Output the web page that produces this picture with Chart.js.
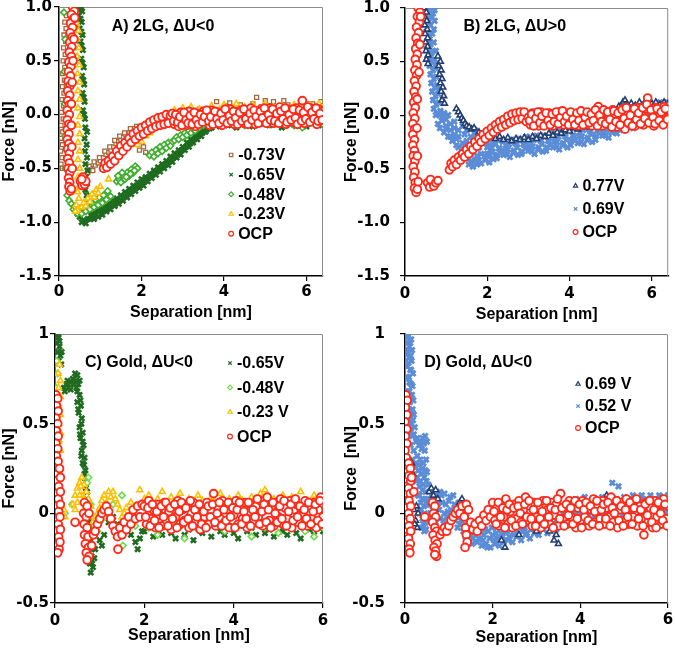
<!DOCTYPE html>
<html>
<head>
<meta charset="utf-8">
<script src="https://cdn.jsdelivr.net/npm/chart.js@4/dist/chart.umd.min.js"></script>
<style>
  body { margin: 0; background: #fff; }
  #wrap { position: relative; width: 675px; height: 648px; }
  canvas { position: absolute; }
</style>
</head>
<body>
<div id="wrap">
  <canvas id="pA" width="337" height="324" style="left:0;top:0"></canvas>
  <canvas id="pB" width="338" height="324" style="left:337px;top:0"></canvas>
  <canvas id="pC" width="337" height="324" style="left:0;top:324px"></canvas>
  <canvas id="pD" width="338" height="324" style="left:337px;top:324px"></canvas>
</div>
<script>
// tick labels
const xTicks = [0, 2, 4, 6];
const yTicksGraphene = [-1.5, -1.0, -0.5, 0.0, 0.5, 1.0];
const yTicksGold = [-0.5, 0, 0.5, 1];

const panelTitles = ["A) 2LG, \u0394U<0", "B) 2LG, \u0394U>0", "C) Gold, \u0394U<0", "D) Gold, \u0394U<0"];
const namesA = ["-0.73V", "-0.65V", "-0.48V", "-0.23V", "OCP"];
const namesB = ["0.77V", "0.69V", "OCP"];
const namesC = ["-0.65V", "-0.48V", "-0.23 V", "OCP"];
const namesD = ["0.69 V", "0.52 V", "OCP"];

// ---- panel A : separation [nm], force [nN]
const aBrown = [
  [0.18,0.92],[0.14,0.86],[0.17,0.8],[0.12,0.74],[0.16,0.68],[0.11,0.62],[0.15,0.56],[0.1,0.5],[0.14,0.44],[0.09,0.38],
  [0.13,0.32],[0.08,0.26],[0.12,0.2],[0.07,0.14],[0.11,0.08],[0.06,0.02],[0.1,-0.04],[0.05,-0.1],[0.09,-0.16],[0.05,-0.22],
  [0.08,-0.28],[0.04,-0.34],[0.07,-0.4],[0.05,-0.46],[0.08,-0.5],
  [0.7,-0.54],[0.76,-0.5],[0.82,-0.52],[0.88,-0.47],[0.95,-0.45],[1.0,-0.43],[1.08,-0.4],[1.14,-0.37],[1.2,-0.35],[1.26,-0.33],
  [1.32,-0.3],[1.38,-0.27],[1.44,-0.25],[1.5,-0.24],[1.56,-0.21],[1.62,-0.19],[1.7,-0.17],[1.76,-0.15],[1.82,-0.13],[1.88,-0.11],
  [0.73,-0.48],[0.85,-0.44],[0.98,-0.4],[1.11,-0.34],[1.23,-0.3],[1.35,-0.24],[1.47,-0.2],[1.59,-0.17],[1.73,-0.13],
  [1.95,-0.33],[2.0,-0.28],[2.05,-0.3],[2.1,-0.35],
  [2.2,-0.08],[2.35,-0.05],[2.5,-0.02],[2.65,0.0],[2.8,0.02],[2.95,-0.01],[3.1,0.03],[3.25,0.01],[3.4,0.05],[3.55,0.02],
  [3.7,0.06],[3.82,0.12],[3.95,0.04],[4.08,0.08],[4.14,0.11],[4.25,0.05],[4.4,0.09],[4.55,0.06],[4.7,0.1],[4.79,0.16],
  [4.9,0.07],[5.0,0.13],[5.1,0.08],[5.2,0.12],[5.32,0.06],[5.45,0.13],[5.55,0.09],[5.7,0.07],[5.85,0.12],[5.95,0.05],
  [6.05,0.1],[6.15,0.1],[6.25,0.07],[6.35,0.12],[6.4,0.08]
];
const aDkGreen = [
  [0.5,1.0],[0.56,0.96],[0.48,0.92],[0.55,0.86],[0.5,0.8],[0.57,0.74],[0.52,0.68],[0.58,0.6],[0.54,0.52],[0.6,0.44],
  [0.56,0.36],[0.61,0.28],[0.57,0.2],[0.62,0.12],[0.58,0.04],[0.63,-0.04],
  [0.53,0.98],[0.52,0.89],[0.54,0.77],[0.55,0.64],[0.57,0.48],[0.59,0.32],[0.6,0.16],[0.61,0.0],
  [0.64,-0.12],[0.68,-0.16],[0.62,-0.22],[0.67,-0.28],[0.63,-0.34],[0.68,-0.4],[0.64,-0.46],[0.69,-0.52],[0.65,-0.58],[0.68,-0.64],
  [0.64,-0.7],[0.67,-0.75],[0.45,-0.92],[0.5,-0.95],[0.55,-1.0],[0.6,-0.98],[0.65,-1.01],[0.7,-0.97],
  [0.75,-0.97],[0.8,-0.92],[0.85,-0.97],[0.9,-0.9],[0.95,-0.95],[1.0,-0.88],[1.05,-0.93],[1.1,-0.86],[1.15,-0.9],[1.2,-0.83],
  [1.25,-0.88],[1.3,-0.8],[1.35,-0.85],[1.4,-0.78],[1.45,-0.83],[1.5,-0.75],[1.55,-0.8],[1.6,-0.72],[1.65,-0.77],[1.7,-0.69],
  [1.75,-0.74],[1.8,-0.66],[1.85,-0.71],[1.9,-0.63],[1.95,-0.68],[2.0,-0.6],[2.05,-0.66],[2.1,-0.58],[2.15,-0.62],[2.2,-0.55],
  [2.25,-0.59],[2.3,-0.52],[2.35,-0.56],[2.4,-0.49],[2.45,-0.53],[2.5,-0.46],[2.55,-0.5],[2.6,-0.43],[2.65,-0.47],[2.7,-0.39],
  [2.75,-0.44],[2.8,-0.36],[2.85,-0.4],[2.9,-0.33],[2.95,-0.37],[3.0,-0.3],[3.05,-0.33],[3.1,-0.26],[3.15,-0.3],[3.2,-0.23],
  [3.25,-0.26],[3.3,-0.2],[3.35,-0.23],[3.4,-0.17],[3.45,-0.2],[3.5,-0.14],[3.55,-0.16],[3.6,-0.11],[3.65,-0.13],
  [0.78,-0.94],[0.88,-0.93],[0.98,-0.9],[1.08,-0.89],[1.18,-0.86],[1.28,-0.84],[1.38,-0.81],[1.48,-0.79],[1.58,-0.76],[1.68,-0.73],
  [1.78,-0.7],[1.88,-0.67],[1.98,-0.64],[2.08,-0.62],[2.18,-0.58],[2.28,-0.55],[2.38,-0.52],[2.48,-0.49],[2.58,-0.46],[2.68,-0.43],
  [2.78,-0.4],[2.88,-0.37],[2.98,-0.33],[3.08,-0.3],[3.18,-0.27],[3.28,-0.23],[3.38,-0.2],[3.48,-0.17],[3.58,-0.14],
  [3.7,-0.12],[3.8,-0.06],[3.9,-0.11],[4.0,-0.03],[4.1,-0.1],[4.2,-0.05],[4.3,-0.12],[4.4,-0.02],[4.5,-0.09],[4.6,-0.04],
  [4.7,-0.11],[4.8,-0.01],[4.9,-0.08],[5.0,-0.03],[5.1,-0.1],[5.2,0.0],[5.3,-0.07],[5.4,-0.12],[5.5,-0.04],[5.6,-0.09],
  [5.7,0.01],[5.8,-0.1],[5.9,-0.05],[6.0,-0.11],[6.1,-0.02],[6.2,-0.08],[6.3,-0.1],[6.4,-0.04]
];
const aGreen = [
  [0.12,0.95],[0.15,0.7],[0.13,0.4],[0.14,0.1],[0.15,-0.2],[0.16,-0.5],[0.2,-0.75],[0.25,-0.8],[0.3,-0.83],
  [0.35,-0.88],[0.4,-0.9],[0.45,-0.92],[0.5,-0.9],[0.55,-0.92],[0.6,-0.88],[0.65,-0.9],[0.7,-0.86],[0.75,-0.88],[0.8,-0.84],
  [0.85,-0.86],[0.9,-0.82],[0.95,-0.84],[1.0,-0.8],[1.05,-0.82],[1.1,-0.78],[1.15,-0.79],[1.2,-0.74],[1.25,-0.76],
  [0.38,-0.85],[0.48,-0.87],[0.58,-0.85],[0.68,-0.83],[0.78,-0.81],[0.88,-0.79],[0.98,-0.77],[1.08,-0.75],[1.18,-0.71],
  [1.4,-0.62],[1.45,-0.6],[1.5,-0.63],[1.55,-0.57],[1.6,-0.6],[1.65,-0.54],[1.7,-0.57],[1.75,-0.51],[1.8,-0.54],[1.85,-0.48],[1.9,-0.5],
  [1.43,-0.57],[1.53,-0.54],[1.63,-0.58],[1.73,-0.55],[1.83,-0.52],
  [2.2,-0.38],[2.25,-0.35],[2.3,-0.39],[2.35,-0.33],[2.4,-0.36],[2.45,-0.3],[2.5,-0.34],[2.55,-0.28],[2.6,-0.31],[2.65,-0.26],[2.7,-0.29],[2.75,-0.25],
  [2.8,-0.24],[2.85,-0.21],[2.9,-0.23],[2.95,-0.19],[3.0,-0.21],[3.05,-0.17],[3.1,-0.19],[3.15,-0.15],[3.2,-0.17],[3.25,-0.13],
  [3.3,-0.15],[3.35,-0.11],[3.4,-0.12],
  [3.5,-0.1],[3.7,-0.05],[3.9,-0.09],[4.2,-0.07],[4.5,-0.1],[4.8,-0.06],[5.1,-0.09],[5.4,-0.05],[5.7,-0.1],[5.9,-0.12],[6.2,-0.07],[6.4,-0.09]
];
const aYellow = [
  [0.42,0.85],[0.47,0.78],[0.43,0.7],[0.48,0.62],[0.44,0.54],[0.49,0.46],[0.45,0.38],[0.5,0.3],[0.46,0.22],[0.5,0.14],
  [0.46,0.06],[0.5,-0.02],[0.46,-0.1],[0.5,-0.18],[0.46,-0.26],[0.5,-0.34],[0.46,-0.42],[0.5,-0.5],[0.46,-0.58],[0.5,-0.66],
  [0.45,-0.72],[0.48,-0.78],[0.42,-0.84],[0.45,-0.89],[0.4,-0.9],
  [0.55,-0.86],[0.6,-0.82],[0.65,-0.85],[0.7,-0.78],[0.75,-0.81],[0.8,-0.74],[0.85,-0.77],[0.9,-0.7],[0.95,-0.73],[1.0,-0.67],[1.2,-0.6],
  [1.9,-0.28],[2.0,-0.25],[2.1,-0.2],[2.2,-0.17],[2.3,-0.13],[2.4,-0.1],
  [2.5,-0.06],[2.6,-0.02],[2.7,0.01],[2.8,0.04],[2.9,0.02],[3.0,0.06],[3.1,0.03],[3.2,0.07],[3.3,0.02],[3.4,0.05],
  [3.5,0.0],[3.6,0.04],[3.7,0.08],[3.8,0.01],[3.9,0.05],[4.0,0.09],[4.1,0.03],[4.2,0.06],[4.3,0.1],[4.4,0.02],
  [4.5,0.07],[4.6,0.04],[4.7,0.09],[4.8,0.03],[4.9,0.06],[5.0,0.1],[5.1,0.02],[5.2,0.07],[5.3,0.04],[5.4,0.08],
  [5.5,0.01],[5.6,0.06],[5.7,0.09],[5.8,0.03],[5.9,0.07],[6.0,0.02],[6.1,0.08],[6.2,0.05],[6.3,0.1],[6.4,0.06]
];
const aOcp = [
  [0.33,1.0],[0.37,0.96],[0.3,0.93],[0.35,0.89],[0.28,0.85],[0.33,0.81],[0.27,0.76],[0.32,0.72],[0.26,0.67],[0.31,0.63],
  [0.25,0.58],[0.3,0.54],[0.24,0.49],[0.29,0.45],[0.23,0.4],[0.28,0.36],[0.22,0.31],[0.27,0.27],[0.21,0.22],[0.26,0.18],
  [0.21,0.13],[0.25,0.09],[0.2,0.04],[0.25,0.0],[0.2,-0.05],[0.24,-0.09],[0.2,-0.14],[0.24,-0.18],[0.2,-0.23],[0.24,-0.27],
  [0.21,-0.32],[0.25,-0.36],[0.21,-0.41],[0.25,-0.45],[0.22,-0.5],[0.26,-0.54],[0.23,-0.59],[0.26,-0.63],[0.24,-0.67],[0.27,-0.71],[0.3,-0.69],
  [0.38,0.9],[0.36,0.7],[0.34,0.5],[0.32,0.3],[0.3,0.1],[0.3,-0.1],[0.31,-0.3],[0.32,-0.5],
  [0.52,-0.62],[0.56,-0.66],[0.6,-0.6],[0.62,-0.65],[0.58,-0.58],[0.65,-0.62],[0.55,-0.6],
  [1.08,-0.5],[1.12,-0.45],[1.16,-0.49],[1.2,-0.43],[1.25,-0.46],[1.3,-0.39],[1.35,-0.43],[1.4,-0.34],[1.45,-0.38],[1.5,-0.29],
  [1.55,-0.34],[1.6,-0.26],[1.65,-0.3],[1.7,-0.22],[1.75,-0.26],[1.8,-0.18],[1.85,-0.23],[1.9,-0.15],[1.95,-0.2],[2.0,-0.12],
  [2.05,-0.18],[2.1,-0.1],[2.15,-0.15],[2.2,-0.07],[2.25,-0.13],[2.3,-0.05],[2.35,-0.11],[2.4,-0.03],[2.45,-0.1],[2.5,-0.02],
  [2.55,-0.09],[2.6,0.0],[2.65,-0.08],[2.7,-0.01],
  [2.75,0.01],[2.8,-0.09],[2.85,-0.03],[2.9,-0.11],[2.95,0.02],[3.0,-0.06],[3.05,-0.01],[3.1,-0.1],[3.15,0.03],[3.2,-0.05],
  [3.25,-0.02],[3.3,-0.11],[3.35,0.01],[3.4,-0.08],[3.45,-0.04],[3.5,0.03],[3.55,-0.06],[3.6,-0.01],[3.65,-0.1],[3.7,0.04],
  [3.75,-0.03],[3.8,-0.08],[3.85,0.02],[3.9,-0.05],[3.95,-0.1],[4.0,0.03],[4.05,-0.02],[4.1,-0.07],[4.15,0.05],[4.2,-0.04],
  [4.25,-0.09],[4.3,0.01],[4.35,-0.06],[4.4,0.04],[4.45,-0.02],[4.5,-0.08],[4.55,0.03],[4.6,-0.05],[4.65,0.06],[4.7,-0.03],
  [4.75,-0.09],[4.8,0.02],[4.85,-0.04],[4.9,0.05],[4.95,-0.07],[5.0,0.01],[5.05,-0.05],[5.1,0.06],[5.15,-0.02],[5.2,-0.08],
  [5.25,0.04],[5.3,-0.03],[5.35,0.07],[5.4,-0.06],[5.45,0.0],[5.5,-0.09],[5.55,0.05],[5.6,-0.02],[5.65,0.03],[5.7,-0.07],
  [5.75,0.06],[5.8,-0.04],[5.85,0.02],[5.9,0.13],[5.95,-0.08],[6.0,0.04],[6.05,-0.03],[6.1,0.06],[6.15,-0.06],[6.2,0.01],
  [6.25,-0.09],[6.3,0.05],[6.35,-0.02],[6.4,0.03],
  [2.78,-0.06],[2.83,0.0],[2.88,-0.07],[2.93,-0.02],[2.98,-0.1],[3.03,0.02],[3.08,-0.05],[3.13,-0.08],[3.18,-0.01],[3.23,-0.09],
  [3.28,0.02],[3.33,-0.05],[3.38,-0.09],[3.43,0.0],[3.48,-0.07],[3.53,-0.02],[3.58,0.04],[3.63,-0.06],[3.68,-0.02],[3.73,-0.09],
  [3.78,0.03],[3.83,-0.04],[3.88,-0.08],[3.93,0.01],[3.98,-0.05],[4.03,0.05],[4.08,-0.08],[4.13,-0.01],[4.18,-0.06],[4.23,0.03],
  [4.28,-0.03],[4.33,-0.09],[4.38,0.02],[4.43,-0.06],[4.48,0.05],[4.53,-0.04],[4.58,-0.09],[4.63,0.01],[4.68,-0.05],[4.73,0.04],
  [4.78,-0.02],[4.83,-0.08],[4.88,0.03],[4.93,-0.03],[4.98,0.06],[5.03,-0.08],[5.08,0.0],[5.13,-0.05],[5.18,0.05],[5.23,-0.06],
  [5.28,0.01],[5.33,-0.08],[5.38,0.03],[5.43,-0.04],[5.48,0.06],[5.53,-0.07],[5.58,0.0],[5.63,-0.05],[5.68,0.05],[5.73,-0.03],
  [5.78,-0.09],[5.83,0.04],[5.88,-0.06],[5.93,0.02],[5.98,-0.04],[6.03,0.07],[6.08,-0.07],[6.13,0.02],[6.18,-0.04],[6.23,0.06],
  [6.28,-0.06],[6.33,0.01],[6.38,-0.05]
];

// ---- panel B
const bNavy = [
  [0.46,1.0],[0.52,0.96],[0.47,0.92],[0.53,0.88],[0.48,0.84],[0.54,0.8],[0.49,0.76],[0.55,0.72],[0.5,0.68],[0.55,0.64],
  [0.51,0.6],[0.56,0.56],[0.52,0.52],[0.56,0.48],
  [0.8,0.55],[0.86,0.5],[0.82,0.46],[0.88,0.42],[0.84,0.38],[0.9,0.34],[0.86,0.3],[0.92,0.26],[0.88,0.22],[0.94,0.18],[0.9,0.14],[0.96,0.11],
  [1.25,0.06],[1.3,0.03],[1.34,0.0],[1.38,-0.03],[1.42,-0.05],[1.46,-0.08],[1.5,-0.1],[1.56,-0.11],[1.62,-0.13],[1.68,-0.12],
  [1.8,-0.16],[1.9,-0.18],[2.0,-0.2],[2.1,-0.19],[2.2,-0.22],[2.3,-0.2],[2.4,-0.23],[2.5,-0.21],[2.6,-0.24],[2.7,-0.22],
  [2.8,-0.23],[2.9,-0.21],[3.0,-0.23],[3.1,-0.2],[3.2,-0.22],[3.3,-0.19],[3.4,-0.2],[3.5,-0.17],[3.6,-0.19],[3.7,-0.16],
  [3.8,-0.17],[3.9,-0.14],[4.0,-0.15],[4.1,-0.12],[4.2,-0.13],[4.3,-0.1],[4.4,-0.11],[4.5,-0.08],[4.6,-0.09],[4.7,-0.05],
  [4.8,-0.06],[4.9,-0.02],[5.0,0.0],[5.1,0.04],[5.2,0.08],[5.3,0.12],[5.35,0.14],[5.4,0.1],[5.5,0.11],[5.6,0.09],
  [5.7,0.12],[5.8,0.1],[5.9,0.13],[6.0,0.11],[6.1,0.12],[6.2,0.1],[6.3,0.12],[6.4,0.11]
];
const bBlue = [
  [0.45,1.0],[0.6,1.0],[0.72,0.98],[0.5,0.94],[0.65,0.92],[0.48,0.86],[0.62,0.84],[0.72,0.88],[0.52,0.78],[0.66,0.76],
  [0.56,0.7],[0.7,0.68],[0.54,0.62],[0.68,0.6],[0.58,0.54],[0.72,0.52],[0.6,0.46],[0.74,0.44],[0.62,0.38],[0.76,0.36],
  [0.64,0.3],[0.78,0.28],[0.66,0.22],[0.8,0.2],[0.68,0.14],[0.82,0.12],[0.7,0.06],[0.86,0.04],
  [0.55,0.98],[0.68,0.95],[0.58,0.9],[0.7,0.8],[0.6,0.74],[0.62,0.66],[0.75,0.6],[0.64,0.58],[0.66,0.5],[0.78,0.48],
  [0.68,0.42],[0.7,0.34],[0.72,0.26],[0.84,0.24],[0.74,0.18],[0.76,0.1],[0.78,0.02],[0.95,0.02],[0.85,0.0],
  [0.75,0.0],[0.9,-0.02],[1.05,0.0],[0.8,-0.08],[1.0,-0.1],[1.2,-0.12],[0.95,-0.16],[1.2,-0.18],[1.45,-0.18],[1.7,-0.18],
  [1.15,-0.24],[1.4,-0.26],[1.65,-0.24],[1.9,-0.22],[1.3,-0.3],[1.55,-0.32],[1.8,-0.3],[2.05,-0.28],[1.5,-0.38],[1.75,-0.38],
  [2.0,-0.36],[1.6,-0.44],[1.75,-0.46],[1.95,-0.42],[2.2,-0.38],[2.4,-0.36],
  [0.9,-0.05],[1.0,-0.04],[1.1,-0.08],[1.2,-0.06],[1.3,-0.14],[1.4,-0.1],[1.5,-0.14],[1.6,-0.2],[1.7,-0.14],[1.8,-0.22],
  [1.9,-0.17],[2.0,-0.2],[1.05,-0.2],[1.25,-0.22],[1.45,-0.28],[1.65,-0.34],[1.85,-0.36],[1.35,-0.36],[1.55,-0.4],[1.65,-0.48],
  [1.7,-0.42],[1.85,-0.45],[2.05,-0.44],[1.9,-0.26],[2.1,-0.22],
  [0.85,-0.12],[1.1,-0.14],[1.3,-0.2],[1.5,-0.24],[1.75,-0.26],[2.0,-0.3],[1.4,-0.32],[1.6,-0.36],[1.8,-0.42],[1.55,-0.46],
  [1.95,-0.38],[1.25,-0.28],[1.1,-0.2],[1.0,-0.12],
  [2.0,-0.26],[2.05,-0.36],[2.1,-0.31],[2.15,-0.41],[2.2,-0.27],[2.25,-0.37],[2.3,-0.31],[2.35,-0.23],[2.4,-0.37],[2.45,-0.28],
  [2.5,-0.32],[2.55,-0.39],[2.6,-0.23],[2.65,-0.33],[2.7,-0.27],[2.75,-0.37],[2.8,-0.24],[2.85,-0.34],[2.9,-0.28],[2.95,-0.2],
  [3.0,-0.33],[3.05,-0.24],[3.1,-0.29],[3.15,-0.36],[3.2,-0.19],[3.25,-0.3],[3.3,-0.24],[3.35,-0.34],[3.4,-0.2],[3.45,-0.3],
  [3.5,-0.24],[3.55,-0.16],[3.6,-0.3],[3.65,-0.21],[3.7,-0.25],[3.75,-0.32],[3.8,-0.15],[3.85,-0.26],[3.9,-0.2],[3.95,-0.3],
  [4.0,-0.13],[4.05,-0.24],[4.1,-0.19],[4.15,-0.11],[4.2,-0.26],[4.25,-0.16],[4.3,-0.2],[4.35,-0.27],[4.4,-0.1],[4.45,-0.21],
  [4.5,-0.15],[4.55,-0.25],[4.6,-0.08],[4.65,-0.19],[4.7,-0.13],[4.75,-0.05],[4.8,-0.19],[4.85,-0.1],[4.9,-0.14],[4.95,-0.21],
  [5.0,-0.04],[5.05,-0.14],[5.1,-0.08],[5.15,-0.17],[5.2,0.0],[5.25,-0.11],[5.3,-0.05],[5.35,0.03],[5.4,-0.11],[5.45,-0.01],
  [5.5,-0.06],[5.55,-0.12],[5.6,0.05],[5.65,-0.05],[5.7,0.02],[5.75,-0.06],[5.8,0.1],[5.85,-0.01],[5.9,0.05],[5.95,0.12],
  [6.0,-0.01],[6.05,0.08],[6.1,0.03],[6.15,-0.02],[6.2,0.12],[6.25,0.02],[6.3,0.07],[6.35,0.0],[6.4,0.11],
  [2.03,-0.39],[2.08,-0.29],[2.13,-0.34],[2.18,-0.26],[2.23,-0.4],[2.28,-0.31],[2.33,-0.35],[2.38,-0.25],[2.43,-0.33],[2.48,-0.37],
  [2.53,-0.27],[2.58,-0.25],[2.63,-0.35],[2.68,-0.25],[2.73,-0.3],[2.78,-0.22],[2.83,-0.36],[2.88,-0.27],[2.93,-0.31],[2.98,-0.21],
  [3.03,-0.29],[3.08,-0.34],[3.13,-0.23],[3.18,-0.21],[3.23,-0.32],[3.28,-0.22],[3.33,-0.27],[3.38,-0.19],[3.43,-0.33],[3.48,-0.24],
  [3.53,-0.28],[3.58,-0.17],[3.63,-0.25],[3.68,-0.3],[3.73,-0.2],[3.78,-0.17],[3.83,-0.28],[3.88,-0.18],[3.93,-0.23],[3.98,-0.14],
  [4.03,-0.28],[4.08,-0.19],[4.13,-0.23],[4.18,-0.12],[4.23,-0.2],[4.28,-0.25],[4.33,-0.14],[4.38,-0.12],[4.43,-0.23],[4.48,-0.13],
  [4.53,-0.18],[4.58,-0.1],[4.63,-0.23],[4.68,-0.14],[4.73,-0.17],[4.78,-0.07],[4.83,-0.15],[4.88,-0.19],[4.93,-0.09],[4.98,-0.06],
  [5.03,-0.16],[5.08,-0.06],[5.13,-0.1],[5.18,-0.02],[5.23,-0.14],[5.28,-0.05],[5.33,-0.08],[5.38,0.01],[5.43,-0.07],[5.48,-0.11],
  [5.53,-0.01],[5.58,0.02],[5.63,-0.08],[5.68,0.02],[5.73,-0.01],[5.78,0.07],[5.83,-0.06],[5.88,0.03],[5.93,-0.01],[5.98,0.1],
  [6.03,0.03],[6.08,-0.02],[6.13,0.09],[6.18,0.1],[6.23,0.0],[6.28,0.09],[6.33,0.04],[6.38,0.12]
];
const bOcp = [
  [0.32,1.0],[0.36,0.96],[0.3,0.92],[0.35,0.87],[0.28,0.82],[0.33,0.77],[0.27,0.72],[0.31,0.67],[0.26,0.62],[0.3,0.57],
  [0.25,0.52],[0.29,0.47],[0.24,0.42],[0.28,0.37],[0.23,0.32],[0.27,0.27],[0.22,0.22],[0.26,0.17],[0.21,0.12],[0.25,0.07],
  [0.2,0.02],[0.24,-0.03],[0.19,-0.08],[0.23,-0.13],[0.19,-0.18],[0.23,-0.23],[0.19,-0.28],[0.23,-0.33],[0.2,-0.38],[0.24,-0.43],
  [0.2,-0.48],[0.24,-0.53],[0.21,-0.58],[0.25,-0.63],[0.23,-0.68],[0.27,-0.72],[0.3,-0.69],
  [0.38,0.92],[0.36,0.66],[0.34,0.4],[0.3,0.15],[0.29,-0.12],[0.3,-0.38],[0.32,-0.62],
  [0.55,-0.63],[0.6,-0.67],[0.65,-0.62],[0.7,-0.66],[0.62,-0.6],[0.75,-0.63],[0.8,-0.61],
  [1.08,-0.51],[1.12,-0.45],[1.16,-0.48],[1.2,-0.42],[1.25,-0.46],[1.3,-0.39],[1.35,-0.42],[1.4,-0.36],[1.45,-0.39],[1.5,-0.32],
  [1.55,-0.36],[1.6,-0.29],[1.65,-0.32],[1.7,-0.25],[1.75,-0.29],[1.8,-0.22],[1.85,-0.25],[1.9,-0.18],[1.95,-0.22],[2.0,-0.15],
  [2.05,-0.19],[2.1,-0.12],[2.15,-0.16],[2.2,-0.09],[2.25,-0.13],[2.3,-0.06],[2.35,-0.11],[2.4,-0.04],[2.45,-0.09],[2.5,-0.01],
  [2.55,-0.07],[2.6,0.01],[2.65,-0.05],[2.7,0.02],[2.75,-0.04],[2.8,0.03],[2.85,-0.03],[2.9,0.03],[2.95,-0.06],
  [3.0,-0.02],[3.05,-0.09],[3.1,0.02],[3.15,-0.06],[3.2,-0.01],[3.25,-0.1],[3.3,0.03],[3.35,-0.05],[3.4,0.0],[3.45,-0.08],
  [3.5,0.02],[3.55,-0.04],[3.6,-0.1],[3.65,0.01],[3.7,-0.06],[3.75,0.03],[3.8,-0.03],[3.85,-0.09],[3.9,0.02],[3.95,-0.05],
  [4.0,0.0],[4.05,-0.08],[4.1,0.01],[4.15,-0.04],[4.2,-0.1],[4.25,0.02],[4.3,-0.06],[4.35,-0.01],[4.4,-0.09],[4.45,0.01],
  [4.5,-0.05],[4.55,-0.1],[4.6,0.0],[4.65,-0.07],[4.7,0.08],[4.75,-0.03],[4.8,-0.1],[4.85,0.04],[4.9,-0.05],[4.95,0.01],
  [5.0,-0.08],[5.05,0.05],[5.1,-0.02],[5.15,-0.11],[5.2,0.03],[5.25,-0.06],[5.3,0.06],[5.35,-0.13],[5.4,0.02],[5.45,-0.08],
  [5.5,0.05],[5.55,-0.03],[5.6,-0.1],[5.65,0.07],[5.7,-0.05],[5.75,0.03],[5.8,-0.09],[5.85,0.06],[5.9,0.16],[5.95,-0.04],
  [6.0,0.04],[6.05,-0.1],[6.1,0.07],[6.15,-0.02],[6.2,0.05],[6.25,-0.07],[6.3,0.08],[6.35,-0.03],[6.4,0.05],
  [3.03,-0.05],[3.08,0.01],[3.13,-0.1],[3.18,-0.03],[3.23,0.03],[3.28,-0.07],[3.33,-0.01],[3.38,-0.1],[3.43,0.02],[3.48,-0.05],
  [3.53,-0.09],[3.58,0.01],[3.63,-0.06],[3.68,0.03],[3.73,-0.08],[3.78,-0.02],[3.83,0.04],[3.88,-0.06],[3.93,-0.01],[3.98,-0.09],
  [4.03,0.03],[4.08,-0.04],[4.13,-0.09],[4.18,0.02],[4.23,-0.05],[4.28,0.04],[4.33,-0.09],[4.38,-0.02],[4.43,0.03],[4.48,-0.07],
  [4.53,0.01],[4.58,-0.05],[4.63,0.05],[4.68,-0.1],[4.73,0.0],[4.78,-0.06],[4.83,0.05],[4.88,-0.08],[4.93,0.03],[4.98,-0.04],
  [5.03,-0.11],[5.08,0.04],[5.13,-0.06],[5.18,0.02],[5.23,-0.09],[5.28,0.05],[5.33,-0.03],[5.38,0.07],[5.43,-0.07],[5.48,0.0],
  [5.53,-0.1],[5.58,0.06],[5.63,-0.04],[5.68,0.02],[5.73,-0.08],[5.78,0.07],[5.83,-0.03],[5.88,0.1],[5.93,-0.07],[5.98,0.05],
  [6.03,-0.02],[6.08,-0.08],[6.13,0.06],[6.18,-0.05],[6.23,0.03],[6.28,-0.09],[6.33,0.06],[6.38,-0.04]
];

// ---- panel C
const cDkGreen = [
  [0.02,1.0],[0.08,0.98],[0.04,0.95],[0.1,0.93],[0.06,0.9],[0.12,0.88],[0.08,0.85],[0.14,0.83],[0.15,0.9],[0.1,0.96],[0.05,0.99],
  [0.2,0.7],[0.25,0.72],[0.3,0.7],[0.35,0.73],[0.4,0.75],[0.45,0.78],[0.5,0.77],[0.55,0.74],[0.48,0.7],[0.55,0.66],
  [0.5,0.62],[0.58,0.6],[0.53,0.56],[0.6,0.53],[0.55,0.48],[0.62,0.45],[0.57,0.42],[0.64,0.38],[0.6,0.35],[0.66,0.31],
  [0.62,0.28],[0.68,0.24],[0.65,0.2],[0.7,0.17],[0.72,0.12],[0.75,0.06],[0.73,0.0],[0.78,-0.05],[0.75,-0.1],[0.8,-0.15],
  [0.76,-0.2],[0.82,-0.24],[0.78,-0.28],[0.8,-0.33],[0.85,-0.3],[0.88,-0.25],[0.9,-0.2],
  [0.42,0.72],[0.47,0.74],[0.52,0.72],[0.5,0.68],[0.57,0.63],[0.52,0.58],[0.59,0.5],[0.56,0.44],[0.62,0.4],[0.59,0.32],
  [0.65,0.27],[0.66,0.22],[0.69,0.14],[0.71,0.08],[0.74,0.03],[0.76,-0.03],[0.77,-0.12],[0.79,-0.18],[0.78,-0.24],[0.83,-0.28],
  [0.82,-0.2],[0.28,0.74],[0.22,0.68],[0.35,0.69],
  [1.0,-0.15],[1.05,-0.18],[1.1,-0.12],[1.2,-0.05],[1.3,-0.02],[1.4,-0.06],[1.5,-0.1],[1.6,-0.08],[1.7,-0.12],[1.75,0.02],
  [1.8,-0.16],[1.85,-0.2],[1.9,-0.14],[1.95,-0.1],
  [2.0,-0.1],[2.1,-0.06],[2.2,-0.13],[2.3,-0.08],[2.4,-0.12],[2.5,-0.05],[2.6,-0.11],[2.7,-0.14],[2.8,-0.07],[2.9,-0.12],
  [3.0,-0.09],[3.1,-0.15],[3.2,-0.06],[3.3,-0.11],[3.4,-0.08],[3.5,-0.13],[3.6,-0.05],[3.7,-0.1],[3.8,-0.12],[3.9,-0.07],
  [4.0,-0.11],[4.1,-0.14],[4.2,-0.06],[4.3,-0.1],[4.4,-0.08],[4.5,-0.12],[4.6,-0.05],[4.7,-0.11],[4.8,-0.09],[4.9,-0.13],
  [5.0,-0.06],[5.1,-0.1],[5.2,-0.12],[5.3,-0.07],[5.4,-0.11],[5.5,-0.14],[5.6,-0.06],[5.7,-0.09],[5.8,-0.12],[5.9,-0.07],[6.0,-0.1]
];
const cGreen = [
  [0.04,0.85],[0.06,0.78],[0.03,0.7],[0.07,0.6],[0.04,0.5],[0.08,0.4],[0.05,0.3],[0.09,0.2],[0.06,0.1],[0.1,0.0],
  [0.22,0.0],[0.38,0.05],[0.75,0.2],[0.72,0.17],[0.8,0.05],
  [0.9,-0.08],[0.95,-0.1],[1.0,-0.05],[1.1,-0.02],[1.3,0.05],[1.5,0.1],[1.52,-0.18],[1.6,-0.1],[1.8,-0.07],
  [2.1,-0.08],[2.3,-0.12],[2.6,-0.06],[2.9,-0.14],[3.2,-0.09],[3.5,-0.05],[3.8,-0.1],[4.1,-0.07],[4.4,-0.13],[4.7,-0.08],
  [5.0,-0.11],[5.3,-0.06],[5.6,-0.1],[5.8,-0.13],[6.0,-0.08]
];
const cYellow = [
  [0.1,0.83],[0.07,0.78],[0.12,0.74],[0.08,0.7],[0.12,0.65],[0.08,0.6],[0.12,0.55],[0.08,0.5],[0.12,0.45],[0.08,0.4],
  [0.12,0.35],[0.08,0.3],[0.12,0.25],[0.08,0.2],[0.11,0.15],[0.08,0.1],[0.11,0.05],[0.08,0.0],[0.1,-0.05],[0.2,0.02],[0.22,-0.02],
  [0.4,0.05],[0.45,0.1],[0.5,0.14],[0.55,0.17],[0.6,0.2],[0.65,0.16],[0.7,0.12],[0.75,0.08],[0.8,0.04],[0.5,0.06],
  [0.6,0.1],[0.7,0.04],[0.45,0.02],[0.82,-0.02],[0.55,0.1],[0.65,0.08],[0.58,0.15],
  [0.85,-0.05],[0.9,-0.08],[0.95,0.0],[1.0,0.03],[1.05,0.07],[1.1,0.1],[1.15,0.06],[1.2,0.12],[1.25,0.09],[1.3,0.12],
  [1.35,0.08],[1.4,0.05],[1.45,0.02],[1.5,-0.02],[1.55,0.0],[1.6,0.03],[1.7,0.06],[1.8,0.04],[1.9,0.13],[2.0,0.08],
  [2.1,0.1],[2.2,0.05],[2.3,0.08],[2.4,0.12],[2.5,0.04],[2.6,0.09],[2.7,0.06],[2.8,0.11],[2.9,0.03],[3.0,0.08],
  [3.1,0.05],[3.2,0.1],[3.3,0.07],[3.4,0.04],[3.5,0.09],[3.6,0.06],[3.7,0.11],[3.8,0.03],[3.9,0.08],[4.0,0.05],
  [4.1,0.1],[4.2,0.07],[4.3,0.04],[4.4,0.09],[4.5,0.06],[4.6,0.11],[4.7,0.13],[4.8,0.05],[4.9,0.08],[5.0,0.04],
  [5.1,0.1],[5.2,0.06],[5.3,0.09],[5.4,0.03],[5.5,0.12],[5.6,0.07],[5.7,0.05],[5.8,0.1],[5.9,0.06],[6.0,0.08]
];
const cOcp = [
  [0.02,0.66],[0.06,0.64],[0.03,0.6],[0.07,0.57],[0.02,0.53],[0.06,0.5],[0.03,0.46],[0.07,0.43],[0.02,0.39],[0.06,0.36],
  [0.03,0.32],[0.07,0.29],[0.02,0.25],[0.06,0.22],[0.1,0.25],[0.03,0.18],[0.08,0.15],[0.12,0.2],[0.02,0.11],[0.07,0.08],
  [0.12,0.12],[0.03,0.04],[0.08,0.01],[0.12,0.05],[0.02,-0.03],[0.07,-0.06],[0.11,-0.02],[0.03,-0.1],[0.08,-0.13],[0.12,-0.09],
  [0.04,-0.17],[0.09,-0.2],[0.06,-0.22],[0.11,-0.16],[0.45,-0.05],
  [0.66,0.06],[0.72,0.04],[0.64,0.0],[0.7,-0.02],[0.76,0.0],[0.65,-0.06],[0.72,-0.08],[0.66,-0.12],[0.74,-0.13],[0.68,-0.17],
  [0.75,-0.19],[0.7,-0.22],[0.76,-0.24],[0.72,-0.26],
  [0.82,-0.18],[0.86,-0.12],[0.9,-0.1],[0.95,-0.06],[1.0,-0.03],[1.05,0.0],[1.1,0.02],[1.15,0.04],[1.2,0.01],[1.25,-0.03],
  [1.3,-0.07],[1.35,-0.1],[1.4,-0.13],[1.45,-0.08],[1.5,-0.12],[1.55,-0.05],[1.6,-0.09],[1.65,-0.02],[1.7,-0.06],[1.75,0.02],
  [1.8,-0.03],[1.85,0.04],[1.9,-0.02],[1.95,0.05],[1.41,-0.2],
  [2.0,0.04],[2.05,-0.06],[2.1,0.07],[2.15,-0.03],[2.2,0.02],[2.25,-0.08],[2.3,0.05],[2.35,-0.01],[2.4,-0.07],[2.45,0.06],
  [2.5,-0.04],[2.55,0.01],[2.6,-0.09],[2.65,0.04],[2.7,-0.02],[2.75,0.07],[2.8,-0.06],[2.85,0.02],[2.9,-0.04],[2.95,0.05],
  [3.0,-0.08],[3.05,0.0],[3.1,0.06],[3.15,-0.05],[3.2,0.03],[3.25,-0.09],[3.3,0.04],[3.35,-0.02],[3.4,0.06],[3.45,-0.06],
  [3.5,0.01],[3.55,0.11],[3.6,-0.07],[3.65,0.03],[3.7,-0.03],[3.75,0.07],[3.8,-0.05],[3.85,0.02],[3.9,-0.08],[3.95,0.05],
  [4.0,-0.01],[4.05,0.07],[4.1,-0.06],[4.15,0.03],[4.2,-0.03],[4.25,0.06],[4.3,-0.08],[4.35,0.01],[4.4,0.05],[4.45,-0.05],
  [4.5,0.04],[4.55,-0.02],[4.6,0.07],[4.65,-0.07],[4.7,0.02],[4.75,0.09],[4.8,-0.04],[4.85,0.04],[4.9,-0.07],[4.95,0.06],
  [5.0,-0.02],[5.05,0.08],[5.1,-0.06],[5.15,0.03],[5.2,-0.03],[5.25,0.07],[5.3,-0.08],[5.35,0.02],[5.4,0.05],[5.45,-0.05],
  [5.5,0.03],[5.55,-0.01],[5.6,0.07],[5.65,-0.07],[5.7,0.04],[5.75,-0.03],[5.8,0.06],[5.85,-0.08],[5.9,0.02],[5.95,0.09],[6.0,-0.02],
  [2.03,-0.02],[2.08,0.03],[2.13,-0.07],[2.18,0.05],[2.23,-0.04],[2.28,0.01],[2.33,-0.08],[2.38,0.04],[2.43,-0.02],[2.48,0.06],
  [2.53,-0.07],[2.58,0.03],[2.63,-0.03],[2.68,0.05],[2.73,-0.08],[2.78,0.01],[2.83,0.06],[2.88,-0.05],[2.93,0.03],[2.98,-0.03],
  [3.03,0.07],[3.08,-0.07],[3.13,0.02],[3.18,-0.02],[3.23,0.05],[3.28,-0.06],[3.33,0.01],[3.38,-0.08],[3.43,0.04],[3.48,-0.02],
  [3.53,0.05],[3.58,-0.05],[3.63,0.0],[3.68,0.06],[3.73,-0.07],[3.78,0.02],[3.83,-0.04],[3.88,0.06],[3.93,-0.02],[3.98,0.03],
  [4.03,-0.08],[4.08,0.02],[4.13,0.06],[4.18,-0.06],[4.23,0.01],[4.28,-0.03],[4.33,0.06],[4.38,-0.07],[4.43,0.02],[4.48,-0.02],
  [4.53,0.08],[4.58,-0.06],[4.63,0.01],[4.68,0.05],[4.73,-0.05],[4.78,0.02],[4.83,-0.08],[4.88,0.06],[4.93,0.0],[4.98,-0.05],
  [5.03,0.04],[5.08,-0.03],[5.13,0.07],[5.18,-0.07],[5.23,0.01],[5.28,0.05],[5.33,-0.04],[5.38,0.08],[5.43,-0.02],[5.48,0.04],
  [5.53,-0.07],[5.58,0.02],[5.63,-0.03],[5.68,0.06],[5.73,-0.06],[5.78,0.01],[5.83,0.05],[5.88,-0.04],[5.93,0.07],[5.98,-0.06]
];

// ---- panel D
const dNavy = [
  [0.2,0.02],[0.24,-0.04],[0.28,-0.08],[0.22,-0.06],[0.3,0.0],[0.26,0.04],[0.15,0.28],[0.18,0.22],
  [0.55,0.12],[0.6,0.14],[0.65,0.1],[0.7,0.13],[0.75,0.08],[0.62,0.06],[0.68,0.02],[0.72,-0.02],
  [1.1,-0.02],[1.25,0.06],[1.3,0.08],[1.35,0.04],[1.5,-0.05],
  [2.2,-0.15],[2.28,-0.19],[2.6,-0.12],[3.0,-0.1],[3.3,-0.1],[3.4,-0.15],[3.45,-0.12],[3.5,-0.17],
  [4.0,-0.05],[4.3,-0.06],[4.6,0.1],[4.65,0.08],[5.0,-0.07],[5.4,-0.06],[5.7,-0.08],[6.0,-0.05]
];
const dBlue = [
  [0.02,1.0],[0.08,0.99],[0.14,0.97],[0.04,0.95],[0.1,0.93],[0.16,0.91],[0.03,0.89],[0.09,0.87],[0.15,0.85],[0.05,0.82],
  [0.12,0.8],[0.18,0.78],[0.04,0.76],[0.1,0.73],[0.17,0.71],[0.06,0.68],[0.12,0.65],[0.19,0.63],[0.07,0.6],[0.14,0.57],
  [0.2,0.55],[0.08,0.52],[0.15,0.5],[0.22,0.48],[0.1,0.45],[0.17,0.43],[0.25,0.4],[0.32,0.38],[0.4,0.42],[0.46,0.43],
  [0.5,0.4],[0.38,0.36],[0.45,0.35],[0.13,0.38],[0.2,0.35],[0.28,0.32],[0.35,0.3],[0.42,0.28],[0.48,0.3],[0.22,0.26],
  [0.3,0.24],[0.37,0.22],[0.44,0.2],[0.5,0.23],[0.26,0.18],[0.33,0.15],[0.4,0.13],[0.47,0.12],[0.53,0.16],[0.3,0.1],
  [0.36,0.06],[0.43,0.04],[0.5,0.05],[0.33,0.0],[0.4,-0.03],[0.47,-0.05],[0.38,-0.08],[0.44,-0.1],[0.52,0.08],
  [0.06,0.98],[0.12,0.95],[0.07,0.91],[0.13,0.88],[0.08,0.84],[0.14,0.8],[0.09,0.76],[0.14,0.72],[0.1,0.68],[0.16,0.66],
  [0.11,0.62],[0.17,0.58],[0.12,0.54],[0.18,0.52],[0.13,0.47],[0.2,0.44],[0.28,0.42],[0.35,0.4],[0.43,0.39],[0.17,0.3],
  [0.25,0.28],[0.32,0.27],[0.4,0.25],[0.46,0.24],[0.28,0.2],[0.35,0.18],[0.42,0.16],[0.49,0.18],[0.33,0.1],[0.4,0.08],
  [0.46,0.08],[0.37,0.02],[0.45,0.0],[0.5,-0.02],[0.42,-0.06],[0.48,-0.09],
  [0.55,0.05],[0.6,-0.02],[0.65,0.08],[0.7,0.0],[0.75,0.1],[0.8,-0.03],[0.85,0.06],[0.9,0.11],[0.95,-0.02],[1.0,0.07],
  [1.05,0.02],[1.1,0.1],[1.15,-0.04],[1.2,0.04],[1.25,-0.06],[1.3,0.02],[0.6,0.1],[0.7,-0.05],[0.8,0.12],[0.9,0.0],
  [1.0,-0.06],[1.1,0.0],[1.2,-0.08],
  [0.58,0.0],[0.63,0.04],[0.68,-0.03],[0.73,0.05],[0.78,0.02],[0.83,0.1],[0.88,-0.04],[0.93,0.05],[0.98,0.01],[1.03,0.09],
  [1.08,-0.03],[1.13,0.05],[1.18,-0.02],[1.23,0.06],[1.28,-0.04],[1.33,-0.1],
  [1.35,-0.08],[1.4,-0.02],[1.45,-0.12],[1.5,-0.06],[1.55,-0.14],[1.6,-0.08],[1.65,-0.16],[1.7,-0.1],[1.75,-0.18],[1.8,-0.12],
  [1.85,-0.17],[1.9,-0.1],[1.95,-0.19],[2.0,-0.12],[2.05,-0.17],[2.1,-0.08],[2.15,-0.18],[2.2,-0.11],[2.25,-0.16],
  [1.38,-0.13],[1.43,-0.06],[1.48,-0.1],[1.53,-0.17],[1.58,-0.11],[1.63,-0.06],[1.68,-0.14],[1.73,-0.07],[1.78,-0.15],[1.83,-0.09],
  [1.88,-0.19],[1.93,-0.14],[1.98,-0.08],[2.03,-0.15],[2.08,-0.11],[2.13,-0.14],[2.18,-0.07],[2.23,-0.13],[2.28,-0.1],
  [2.3,-0.05],[2.35,-0.15],[2.4,-0.09],[2.45,-0.16],[2.5,-0.04],[2.55,-0.13],[2.6,-0.07],[2.65,-0.15],[2.7,-0.03],[2.75,-0.12],
  [2.8,-0.06],[2.85,-0.14],[2.9,-0.02],[2.95,-0.11],[3.0,-0.05],[3.05,-0.12],[3.1,0.0],[3.15,-0.09],[3.2,-0.03],[3.25,-0.11],
  [3.3,0.02],[3.35,-0.08],[3.4,-0.02],[3.45,-0.09],[3.5,0.03],[3.55,-0.07],[3.6,0.0],[3.65,-0.06],[3.7,0.05],[3.75,-0.04],
  [3.8,0.02],[3.85,-0.05],[3.9,0.08],[3.95,-0.03],[4.0,0.04],[4.05,-0.04],[4.1,0.09],[4.15,-0.02],[4.2,0.05],[4.25,-0.03],
  [4.3,0.08],[4.35,-0.02],[4.4,0.06],[4.45,-0.03],[4.5,0.09],[4.55,0.0],[4.6,0.06],[4.65,-0.02],[4.7,0.08],[4.73,0.17],
  [4.8,0.01],[4.87,0.15],[4.9,0.07],[4.95,-0.01],[5.0,0.09],[5.05,0.02],[5.1,0.07],[5.15,-0.01],[5.2,0.1],[5.25,0.02],
  [5.3,0.07],[5.35,0.0],[5.4,0.1],[5.45,0.03],[5.5,0.08],[5.55,0.0],[5.6,0.1],[5.65,0.03],[5.7,0.08],[5.75,0.01],
  [5.8,0.1],[5.85,0.04],[5.9,0.08],[5.95,0.01],[6.0,0.1],
  [2.33,-0.1],[2.38,-0.13],[2.43,-0.07],[2.48,-0.12],[2.53,-0.09],[2.58,-0.12],[2.63,-0.06],[2.68,-0.1],[2.73,-0.08],[2.78,-0.11],
  [2.83,-0.05],[2.88,-0.09],[2.93,-0.06],[2.98,-0.1],[3.03,-0.04],[3.08,-0.08],[3.13,-0.05],[3.18,-0.07],[3.23,-0.02],[3.28,-0.06],
  [3.33,-0.04],[3.38,-0.06],[3.43,0.0],[3.48,-0.05],[3.53,-0.02],[3.58,-0.04],[3.63,0.02],[3.68,-0.03],[3.73,0.0],[3.78,-0.02],
  [3.83,0.04],[3.88,0.0],[3.93,0.02],[3.98,-0.01],[4.03,0.06],[4.08,0.01],[4.13,0.03],[4.18,0.0],[4.23,0.06],[4.28,0.01],
  [4.33,0.04],[4.38,0.01],[4.43,0.07],[4.48,0.02],[4.53,0.05],[4.58,0.01],[4.63,0.07],[4.68,0.03],[4.73,0.05],[4.78,0.02],
  [4.83,0.08],[4.88,0.02],[4.93,0.05],[4.98,0.02],[5.03,0.07],[5.08,0.03],[5.13,0.05],[5.18,0.02],[5.23,0.08],[5.28,0.03],
  [5.33,0.06],[5.38,0.02],[5.43,0.08],[5.48,0.04],[5.53,0.06],[5.58,0.03],[5.63,0.08],[5.68,0.04],[5.73,0.06],[5.78,0.03],
  [5.83,0.09],[5.88,0.04],[5.93,0.06],[5.98,0.03]
];
const dOcp = [
  [0.02,0.66],[0.05,0.63],[0.01,0.59],[0.04,0.55],[0.0,0.51],[0.04,0.47],[0.01,0.43],[0.04,0.39],[0.0,0.35],[0.03,0.31],
  [0.0,0.27],[0.04,0.23],[0.01,0.19],[0.03,0.15],[0.0,0.11],[0.04,0.07],[0.01,0.03],[0.03,-0.01],[0.0,-0.05],[0.03,-0.09],
  [0.01,-0.13],[0.02,-0.16],
  [0.08,0.28],[0.12,0.25],[0.09,0.21],[0.13,0.18],[0.08,0.14],[0.12,0.11],[0.09,0.07],[0.13,0.04],[0.08,0.0],[0.12,-0.03],
  [0.09,-0.07],[0.13,-0.1],[0.08,-0.14],[0.12,-0.17],[0.09,-0.2],[0.11,-0.22],[0.2,0.12],[0.15,0.2],[0.45,-0.02],
  [0.63,0.06],[0.68,0.04],[0.65,0.0],[0.7,-0.02],[0.63,-0.05],[0.68,-0.08],[0.72,-0.1],[0.64,-0.12],[0.69,-0.15],[0.73,-0.17],
  [0.66,-0.19],[0.7,-0.21],[0.72,-0.24],[0.68,-0.23],
  [0.8,-0.12],[0.85,-0.1],[0.9,-0.08],[0.95,-0.1],[1.0,-0.07],[1.05,-0.04],[1.1,-0.02],[1.15,0.0],[1.2,0.02],[1.25,0.0],
  [1.3,0.04],[1.35,-0.02],[1.38,-0.08],[1.4,-0.12],[1.42,-0.16],[1.37,-0.19],[1.4,0.05],[1.45,0.02],[1.5,-0.05],[1.55,-0.09],
  [1.6,-0.06],[1.65,-0.1],[1.7,-0.04],[1.75,-0.07],[1.8,-0.01],[1.85,-0.04],[1.9,0.02],[1.95,-0.02],
  [2.0,0.06],[2.05,-0.04],[2.1,0.03],[2.15,-0.07],[2.2,0.05],[2.25,-0.02],[2.3,0.08],[2.35,-0.06],[2.4,0.01],[2.45,-0.08],
  [2.5,0.05],[2.55,-0.03],[2.6,0.07],[2.65,-0.05],[2.7,0.02],[2.75,0.09],[2.8,-0.04],[2.85,0.04],[2.9,-0.07],[2.95,0.06],
  [3.0,-0.02],[3.05,0.03],[3.1,-0.08],[3.15,0.07],[3.2,-0.04],[3.25,0.02],[3.3,-0.06],[3.35,0.06],[3.4,-0.01],[3.45,0.05],
  [3.5,-0.07],[3.55,0.11],[3.6,-0.03],[3.65,0.04],[3.7,-0.06],[3.75,0.07],[3.8,-0.02],[3.85,0.05],[3.9,-0.08],[3.95,0.03],
  [4.0,-0.04],[4.05,0.07],[4.1,-0.02],[4.15,0.05],[4.2,-0.07],[4.25,0.02],[4.3,0.08],[4.35,-0.05],[4.4,0.04],[4.45,-0.03],
  [4.5,0.07],[4.55,-0.06],[4.6,0.03],[4.65,-0.02],[4.7,0.09],[4.75,-0.05],[4.8,0.05],[4.85,-0.08],[4.9,0.02],[4.95,0.06],
  [5.0,-0.04],[5.05,0.08],[5.1,-0.06],[5.15,0.03],[5.2,-0.02],[5.25,0.07],[5.3,-0.07],[5.35,0.04],[5.4,-0.03],[5.45,-0.12],
  [5.5,0.06],[5.55,-0.05],[5.6,0.03],[5.65,-0.08],[5.7,0.07],[5.75,-0.02],[5.8,0.05],[5.85,-0.06],[5.9,0.08],[5.95,-0.03],[6.0,0.04],
  [2.03,0.01],[2.08,-0.06],[2.13,0.06],[2.18,-0.02],[2.23,0.03],[2.28,-0.08],[2.33,0.02],[2.38,0.05],[2.43,-0.04],[2.48,0.03],
  [2.53,-0.07],[2.58,0.04],[2.63,0.0],[2.68,-0.06],[2.73,0.05],[2.78,-0.02],[2.83,0.07],[2.88,-0.03],[2.93,0.02],[2.98,-0.07],
  [3.03,0.06],[3.08,-0.03],[3.13,0.01],[3.18,-0.06],[3.23,0.07],[3.28,-0.02],[3.33,0.03],[3.38,-0.08],[3.43,0.02],[3.48,0.08],
  [3.53,-0.03],[3.58,0.03],[3.63,-0.07],[3.68,0.05],[3.73,-0.01],[3.78,0.03],[3.83,-0.06],[3.88,0.07],[3.93,-0.03],[3.98,0.05],
  [4.03,-0.08],[4.08,0.02],[4.13,0.06],[4.18,-0.04],[4.23,0.04],[4.28,-0.06],[4.33,0.01],[4.38,0.07],[4.43,-0.07],[4.48,0.02],
  [4.53,0.05],[4.58,-0.03],[4.63,0.06],[4.68,-0.07],[4.73,0.03],[4.78,0.0],[4.83,0.07],[4.88,-0.04],[4.93,0.04],[4.98,-0.07],
  [5.03,0.02],[5.08,-0.02],[5.13,0.06],[5.18,-0.06],[5.23,0.03],[5.28,0.08],[5.33,-0.03],[5.38,0.02],[5.43,-0.07],[5.48,0.05],
  [5.53,-0.01],[5.58,0.07],[5.63,-0.05],[5.68,0.02],[5.73,-0.08],[5.78,0.06],[5.83,0.0],[5.88,-0.04],[5.93,0.05],[5.98,-0.07]
];

// marker looks
const looks = {
  brown:  { pointStyle: 'rect', pointRadius: 2.8, borderWidth: 1.3, borderColor: '#a3683c', backgroundColor: '#fff' },
  dkgreen:{ pointStyle: 'crossRot', pointRadius: 3.6, borderWidth: 2.6, borderColor: '#1f6b1f', backgroundColor: '#1f6b1f' },
  green:  { pointStyle: 'rectRot', pointRadius: 3.2, borderWidth: 1.6, borderColor: '#3fae2e', backgroundColor: '#fff' },
  lime:   { pointStyle: 'rectRot', pointRadius: 3.2, borderWidth: 1.6, borderColor: '#6fdc4a', backgroundColor: '#fff' },
  yellow: { pointStyle: 'triangle', pointRadius: 3.4, borderWidth: 1.6, borderColor: '#ffbf00', backgroundColor: '#fff' },
  red:    { pointStyle: 'circle', pointRadius: 3.9, borderWidth: 1.9, borderColor: '#ff2a1a', backgroundColor: '#fff' },
  navy:   { pointStyle: 'triangle', pointRadius: 3.4, borderWidth: 1.6, borderColor: '#233f70', backgroundColor: '#fff' },
  blue:   { pointStyle: 'crossRot', pointRadius: 3.7, borderWidth: 2.8, borderColor: '#5b8dd7', backgroundColor: '#5b8dd7' }
};

function pts(arr) {
  return arr.map((p) => ({ x: p[0], y: p[1] }));
}

function series(label, data, look, order) {
  return Object.assign({ label: label, data: pts(data), order: order }, looks[look]);
}

const baseFont = '"Liberation Sans", Arial, sans-serif';

const panelText = {
  id: 'panelText',
  beforeDatasetsDraw(chart) {
    const { ctx, chartArea: ca } = chart;
    ctx.save();
    ctx.strokeStyle = '#8c8c8c';
    ctx.lineWidth = 1;
    ctx.beginPath();
    ctx.moveTo(ca.left, ca.top + 0.5);
    ctx.lineTo(ca.right - 0.5, ca.top + 0.5);
    ctx.lineTo(ca.right - 0.5, ca.bottom);
    ctx.stroke();
    ctx.restore();
  },
  afterDraw(chart, args, opts) {
    const { ctx, chartArea: ca } = chart;
    ctx.save();
    ctx.fillStyle = '#000';
    ctx.font = 'bold 16px ' + baseFont;
    ctx.textBaseline = 'middle';
    ctx.textAlign = 'center';
    ctx.fillText(opts.title, ca.left + opts.titleAt[0] * ca.width, ca.top + opts.titleAt[1] * ca.height);
    ctx.textAlign = 'left';
    chart.data.datasets.forEach((ds, i) => {
      const mx = ca.left + opts.legendAt[0] * ca.width;
      const my = ca.top + opts.legendAt[1] * ca.height + i * opts.legendGap;
      ctx.strokeStyle = ds.borderColor;
      ctx.fillStyle = ds.backgroundColor;
      ctx.lineWidth = 1.2;
      Chart.helpers.drawPoint(ctx, { pointStyle: ds.pointStyle, radius: 2.4, rotation: 0, borderWidth: 1.2 }, mx, my);
      ctx.fillStyle = '#000';
      ctx.fillText(ds.label, mx + 7, my + 1);
    });
    ctx.restore();
  }
};

function makePanel(id, p) {
  const tickFont = { family: '"DejaVu Sans", sans-serif', size: 15, weight: 'bold' };
  const titleFont = { family: baseFont, size: 16, weight: 'bold' };
  new Chart(document.getElementById(id), {
    type: 'scatter',
    data: { datasets: p.datasets },
    options: {
      responsive: false,
      animation: false,
      devicePixelRatio: 1,
      layout: { padding: p.pad },
      plugins: {
        legend: { display: false },
        tooltip: { enabled: false },
        panelText: { title: p.title, titleAt: p.titleAt, legendAt: p.legendAt, legendGap: p.legendGap }
      },
      scales: {
        x: {
          type: 'linear', min: 0, max: p.xMax,
          afterBuildTicks: (s) => { s.ticks = xTicks.map((v) => ({ value: v })); },
          afterFit: (s) => { s.height = p.xHeight; s.paddingLeft = 0; s.paddingRight = 0; },
          ticks: { font: tickFont, color: '#000', padding: p.xPad, maxRotation: 0, autoSkip: false, callback: (v) => String(v) },
          grid: { drawOnChartArea: false, tickLength: 5, color: '#000', lineWidth: 1.2 },
          border: { color: '#000', width: 1.5 },
          title: { display: true, text: 'Separation [nm]', font: titleFont, color: '#000', padding: { top: 0, bottom: p.xTitlePad } }
        },
        y: {
          type: 'linear', min: p.yTicks[0], max: p.yTicks[p.yTicks.length - 1],
          afterBuildTicks: (s) => { s.ticks = p.yTicks.map((v) => ({ value: v })); },
          afterFit: (s) => { s.width = p.yWidth; s.paddingTop = 0; s.paddingBottom = 0; },
          ticks: { font: tickFont, color: '#000', padding: p.yPad, autoSkip: false, callback: p.yFormat },
          grid: { drawOnChartArea: false, tickLength: 5, color: '#000', lineWidth: 1.2 },
          border: { color: '#000', width: 1.5 },
          title: { display: true, text: p.yTitle, font: titleFont, color: '#000', padding: { top: p.yTitlePad, bottom: 0 } }
        }
      }
    },
    plugins: [panelText]
  });
}

const oneDecimal = (v) => v.toFixed(1);
const plain = (v) => String(v);

makePanel('pA', {
  datasets: [
    series(namesA[0], aBrown, 'brown', 4),
    series(namesA[1], aDkGreen, 'dkgreen', 3),
    series(namesA[2], aGreen, 'green', 2),
    series(namesA[3], aYellow, 'yellow', 1),
    series(namesA[4], aOcp, 'red', 0)
  ],
  title: panelTitles[0], titleAt: [0.394, 0.074], legendAt: [0.652, 0.55], legendGap: 19.7,
  pad: { left: 0, top: 7, right: 14, bottom: 0 }, xMax: 6.4, yTicks: yTicksGraphene, yFormat: oneDecimal,
  yWidth: 59, xHeight: 48, yPad: 2, xPad: 2, xTitlePad: 2, yTitle: 'Force [nN]', yTitlePad: 0
});

makePanel('pB', {
  datasets: [
    series(namesB[0], bNavy, 'navy', 1),
    series(namesB[1], bBlue, 'blue', 2),
    series(namesB[2], bOcp, 'red', 0)
  ],
  title: panelTitles[1], titleAt: [0.417, 0.071], legendAt: [0.648, 0.664], legendGap: 23,
  pad: { left: 0, top: 8, right: 6, bottom: 0 }, xMax: 6.4, yTicks: yTicksGraphene, yFormat: oneDecimal,
  yWidth: 68, xHeight: 48, yPad: 10, xPad: 4, xTitlePad: 0, yTitle: 'Force [nN]', yTitlePad: 5
});

makePanel('pC', {
  datasets: [
    series(namesC[0], cDkGreen, 'dkgreen', 3),
    series(namesC[1], cGreen, 'lime', 2),
    series(namesC[2], cYellow, 'yellow', 1),
    series(namesC[3], cOcp, 'red', 0)
  ],
  title: panelTitles[2], titleAt: [0.313, 0.108], legendAt: [0.653, 0.108], legendGap: 24.5,
  pad: { left: 0, top: 10, right: 14, bottom: 0 }, xMax: 6, yTicks: yTicksGold, yFormat: plain,
  yWidth: 55, xHeight: 45, yPad: 1, xPad: 4, xTitlePad: 3, yTitle: 'Force [nN]', yTitlePad: 0
});

makePanel('pD', {
  datasets: [
    series(namesD[0], dNavy, 'navy', 1),
    series(namesD[1], dBlue, 'blue', 2),
    series(namesD[2], dOcp, 'red', 0)
  ],
  title: panelTitles[3], titleAt: [0.278, 0.108], legendAt: [0.658, 0.186], legendGap: 22,
  pad: { left: 0, top: 10, right: 7, bottom: 0 }, xMax: 6, yTicks: yTicksGold, yFormat: plain,
  yWidth: 68, xHeight: 45, yPad: 15, xPad: 3, xTitlePad: 1, yTitle: 'Force  [nN]', yTitlePad: 5
});
</script>
</body>
</html>
